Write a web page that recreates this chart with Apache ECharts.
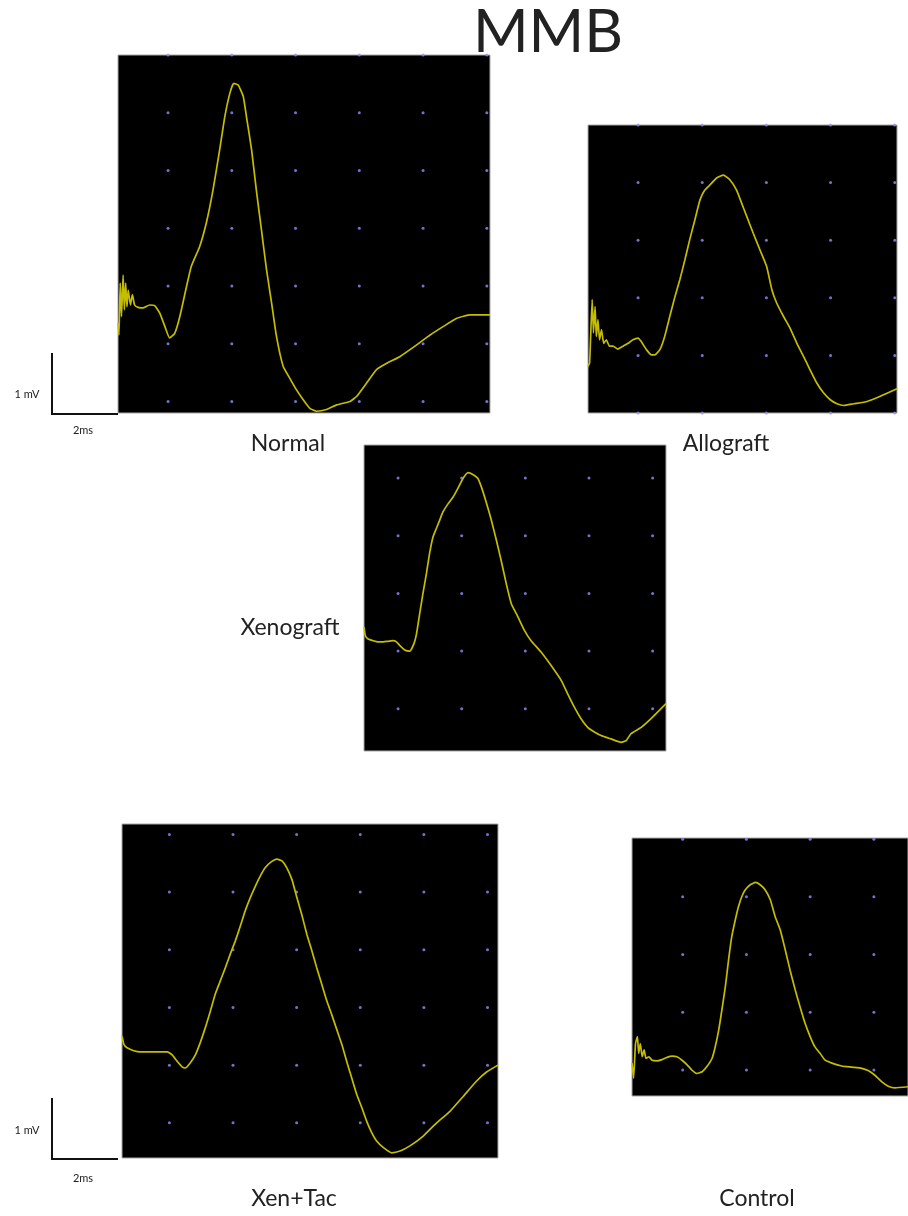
<!DOCTYPE html>
<html>
<head>
<meta charset="utf-8">
<title>MMB</title>
<script src="https://cdn.jsdelivr.net/npm/echarts@6/dist/echarts.min.js"></script>
<style>
    html, body { margin: 0; padding: 0; background: #fff; }
    #mmb_chart { width: 908px; height: 1216px; }
</style>
</head>
<body>
<div id="mmb_chart"></div>
<script>
    // traces: [ms, mV]
    var normalTrace = [
        [-1.57, 1.36], [-1.54, 1.15], [-1.50, 2.05], [-1.46, 1.47], [-1.41, 2.19], [-1.37, 1.59],
        [-1.33, 2.05], [-1.29, 1.64], [-1.25, 1.93], [-1.18, 1.67], [-1.12, 1.85], [-1.05, 1.67],
        [-0.94, 1.63], [-0.79, 1.62], [-0.58, 1.67], [-0.42, 1.66], [-0.26, 1.53], [-0.10, 1.30],
        [0.05, 1.10], [0.21, 1.18], [0.37, 1.47], [0.58, 1.99], [0.73, 2.34], [0.99, 2.68],
        [1.20, 3.09], [1.41, 3.66], [1.62, 4.36], [1.78, 4.93], [1.94, 5.34], [2.06, 5.51],
        [2.20, 5.48], [2.36, 5.28], [2.46, 4.93], [2.62, 4.36], [2.77, 3.66], [2.93, 2.97],
        [3.09, 2.28], [3.25, 1.70], [3.40, 1.13], [3.61, 0.61], [3.82, 0.40], [4.03, 0.20],
        [4.24, 0.03], [4.45, -0.12], [4.66, -0.17], [4.97, -0.14], [5.29, -0.06], [5.71, 0.00],
        [5.92, 0.09], [6.23, 0.32], [6.54, 0.55], [6.86, 0.66], [7.28, 0.78], [7.80, 0.98],
        [8.22, 1.15], [8.64, 1.30], [9.06, 1.44], [9.48, 1.50], [10.10, 1.50]
    ];
    var allograftTrace = [
        [-1.56, 0.81], [-1.51, 0.87], [-1.43, 1.97], [-1.39, 1.39], [-1.34, 1.85], [-1.30, 1.33],
        [-1.25, 1.62], [-1.20, 1.27], [-1.14, 1.45], [-1.07, 1.21], [-0.99, 1.27], [-0.89, 1.16],
        [-0.78, 1.16], [-0.63, 1.11], [-0.47, 1.16], [-0.31, 1.21], [-0.16, 1.27], [0, 1.30],
        [0.10, 1.24], [0.26, 1.10], [0.42, 1.01], [0.52, 1.01], [0.68, 1.10], [0.83, 1.33],
        [0.99, 1.68], [1.15, 2.02], [1.30, 2.31], [1.46, 2.66], [1.61, 3.01], [1.77, 3.35],
        [1.93, 3.70], [2.08, 3.87], [2.24, 3.96], [2.45, 4.08], [2.66, 4.13], [2.86, 4.05],
        [3.07, 3.87], [3.23, 3.64], [3.39, 3.41], [3.59, 3.12], [3.80, 2.83], [4.01, 2.54],
        [4.17, 2.14], [4.32, 1.91], [4.53, 1.68], [4.74, 1.47], [4.95, 1.21], [5.16, 0.98],
        [5.36, 0.75], [5.57, 0.52], [5.78, 0.35], [5.99, 0.23], [6.20, 0.16], [6.41, 0.13],
        [6.72, 0.16], [7.14, 0.20], [7.55, 0.29], [8.07, 0.42]
    ];
    var xenograftTrace = [
        [-1.07, 2.42], [-1.03, 2.27], [-0.94, 2.21], [-0.78, 2.18], [-0.63, 2.16], [-0.47, 2.16],
        [-0.31, 2.17], [-0.16, 2.18], [-0.05, 2.16], [0.05, 2.10], [0.21, 2.02], [0.37, 2.00],
        [0.50, 2.13], [0.58, 2.30], [0.68, 2.65], [0.78, 2.99], [0.89, 3.34], [0.99, 3.69],
        [1.10, 3.98], [1.20, 4.12], [1.31, 4.27], [1.41, 4.41], [1.57, 4.55], [1.73, 4.67],
        [1.88, 4.82], [2.04, 4.99], [2.20, 5.09], [2.35, 5.06], [2.51, 4.99], [2.62, 4.84],
        [2.77, 4.58], [2.93, 4.27], [3.09, 3.92], [3.24, 3.57], [3.40, 3.17], [3.56, 2.82],
        [3.77, 2.59], [3.97, 2.36], [4.18, 2.18], [4.50, 1.98], [4.81, 1.75], [5.13, 1.49],
        [5.33, 1.26], [5.54, 1.03], [5.75, 0.83], [5.96, 0.68], [6.17, 0.60], [6.38, 0.54],
        [6.69, 0.48], [7.01, 0.42], [7.17, 0.45], [7.32, 0.57], [7.64, 0.68], [7.95, 0.83],
        [8.42, 1.09]
    ];
    var xenTacTrace = [
        [-1.49, 2.50], [-1.43, 2.36], [-1.33, 2.30], [-1.12, 2.25], [-0.91, 2.23], [-0.60, 2.23],
        [-0.28, 2.23], [-0.07, 2.23], [0.08, 2.18], [0.24, 2.07], [0.40, 1.97], [0.50, 1.95],
        [0.66, 2.04], [0.82, 2.18], [0.97, 2.39], [1.13, 2.65], [1.29, 2.94], [1.44, 3.23],
        [1.60, 3.46], [1.76, 3.69], [1.91, 3.92], [2.07, 4.15], [2.23, 4.41], [2.38, 4.67],
        [2.54, 4.90], [2.70, 5.10], [2.86, 5.28], [3.01, 5.42], [3.17, 5.51], [3.38, 5.57],
        [3.54, 5.54], [3.69, 5.42], [3.85, 5.22], [4.01, 4.90], [4.16, 4.61], [4.32, 4.27],
        [4.48, 3.98], [4.63, 3.69], [4.79, 3.40], [4.95, 3.11], [5.10, 2.88], [5.26, 2.62],
        [5.42, 2.36], [5.57, 2.07], [5.73, 1.78], [5.89, 1.49], [6.05, 1.26], [6.20, 1.03],
        [6.36, 0.83], [6.52, 0.68], [6.73, 0.57], [6.99, 0.48], [7.25, 0.51], [7.56, 0.60],
        [7.98, 0.77], [8.40, 1.00], [8.82, 1.20], [9.24, 1.46], [9.65, 1.72], [9.97, 1.88],
        [10.33, 2.00]
    ];
    var controlTrace = [
        [-1.59, 1.12], [-1.54, 0.86], [-1.48, 1.46], [-1.42, 1.58], [-1.38, 1.29], [-1.33, 1.46],
        [-1.27, 1.23], [-1.21, 1.35], [-1.15, 1.20], [-1.06, 1.23], [-0.96, 1.17], [-0.80, 1.16],
        [-0.65, 1.18], [-0.49, 1.22], [-0.33, 1.24], [-0.18, 1.23], [-0.02, 1.17], [0.14, 1.09],
        [0.29, 1.00], [0.45, 0.94], [0.61, 0.97], [0.76, 1.06], [0.92, 1.20], [1.02, 1.40],
        [1.13, 1.69], [1.23, 2.04], [1.34, 2.45], [1.44, 2.91], [1.54, 3.31], [1.65, 3.60],
        [1.75, 3.83], [1.86, 4.01], [1.96, 4.12], [2.12, 4.21], [2.28, 4.25], [2.43, 4.21],
        [2.59, 4.12], [2.75, 3.95], [2.90, 3.66], [3.06, 3.43], [3.22, 3.08], [3.37, 2.73],
        [3.53, 2.39], [3.68, 2.10], [3.84, 1.81], [4.00, 1.58], [4.15, 1.40], [4.31, 1.29],
        [4.47, 1.17], [4.68, 1.12], [4.99, 1.07], [5.30, 1.05], [5.62, 1.03], [5.82, 0.99],
        [6.03, 0.91], [6.24, 0.80], [6.45, 0.72], [6.66, 0.69], [7.07, 0.71]
    ];

    // scope grid dot positions (ms / mV)
    var dotsX6 = [0, 2, 4, 6, 8, 10];
    var dotsX5 = [0, 2, 4, 6, 8];
    var dotsX4 = [0, 2, 4, 6];
    var dotsY06 = [0, 1, 2, 3, 4, 5, 6];
    var dotsY05 = [0, 1, 2, 3, 4, 5];
    var dotsY15 = [1, 2, 3, 4, 5];
    var dotsY16 = [1, 2, 3, 4, 5, 6];

    var panelNames = ['Normal', 'Allograft', 'Xenograft', 'Xen+Tac', 'Control'];

    var panels = [
        {trace: normalTrace, dx: dotsX6, dy: dotsY06, box: [118, 55, 372, 358], x: [-1.57, 10.10], y: [-0.2, 6.0]},
        {trace: allograftTrace, dx: dotsX5, dy: dotsY05, box: [588, 125, 309, 288], x: [-1.56, 8.07], y: [0, 5.0]},
        {trace: xenograftTrace, dx: dotsX5, dy: dotsY15, box: [364, 445, 302, 306], x: [-1.07, 8.42], y: [0.27, 5.57]},
        {trace: xenTacTrace, dx: dotsX6, dy: dotsY16, box: [122, 824, 376, 334], x: [-1.49, 10.33], y: [0.39, 6.18]},
        {trace: controlTrace, dx: dotsX4, dy: dotsY15, box: [632, 838, 276, 258], x: [-1.59, 7.07], y: [0.55, 5.02]}
    ];

    function dotGrid(xs, ys) {
        var out = [];
        xs.forEach(function (x) {
            ys.forEach(function (y) { out.push([x, y]); });
        });
        return out;
    }

    var grids = [], xAxes = [], yAxes = [], series = [];
    panels.forEach(function (p, i) {
        grids.push({
            left: p.box[0], top: p.box[1], width: p.box[2], height: p.box[3],
            show: true, backgroundColor: '#000', borderColor: '#a8a8a8', borderWidth: 1
        });
        var hidden = {axisLine: {show: false}, axisTick: {show: false}, axisLabel: {show: false}, splitLine: {show: false}};
        xAxes.push(Object.assign({type: 'value', gridIndex: i, min: p.x[0], max: p.x[1]}, hidden));
        yAxes.push(Object.assign({type: 'value', gridIndex: i, min: p.y[0], max: p.y[1]}, hidden));
        series.push({
            type: 'scatter', xAxisIndex: i, yAxisIndex: i, symbolSize: 3, silent: true,
            itemStyle: {color: '#9090ff'},
            data: dotGrid(p.dx, p.dy)
        });
        series.push({
            name: panelNames[i], type: 'line', xAxisIndex: i, yAxisIndex: i,
            showSymbol: false, smooth: 0.15, silent: true,
            lineStyle: {color: '#c4bd00', width: 1.7},
            data: p.trace
        });
    });

    var txt = function (x, y, s, size) {
        return {type: 'text', x: x, y: y, style: {text: s, fill: '#222', font: size + 'px Lato, sans-serif', textAlign: 'center', textVerticalAlign: 'middle'}};
    };
    var bar = function (x, y) {
        return {type: 'polyline', shape: {points: [[x, y], [x, y + 61], [x + 66, y + 61]]}, style: {stroke: '#111', lineWidth: 2, fill: null}};
    };

    var graphics = [
        txt(548, 33, 'MMB', 60),
        txt(288, 444, panelNames[0], 23),
        txt(726, 444, panelNames[1], 23),
        txt(290, 628, panelNames[2], 23),
        txt(294, 1199, panelNames[3], 23),
        txt(757, 1199, panelNames[4], 23),
        bar(52, 353), txt(27, 394, '1 mV', 11), txt(83, 430, '2ms', 11),
        bar(52, 1098), txt(27, 1130, '1 mV', 11), txt(83, 1178, '2ms', 11)
    ];

    var chart = echarts.init(document.getElementById('mmb_chart'), null, {renderer: 'canvas'});
    chart.setOption({
        backgroundColor: '#fff',
        animation: false,
        grid: grids,
        xAxis: xAxes,
        yAxis: yAxes,
        series: series,
        graphic: graphics
    });
</script>
</body>
</html>
